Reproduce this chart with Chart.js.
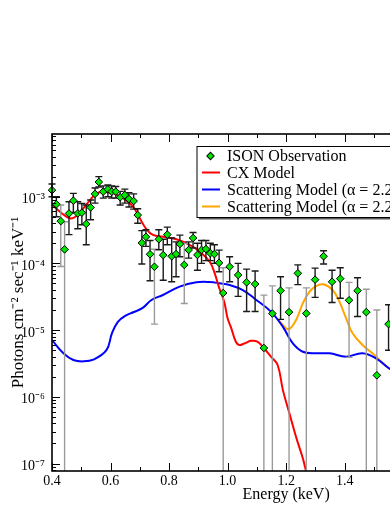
<!DOCTYPE html>
<html><head><meta charset="utf-8">
<script src="https://cdn.jsdelivr.net/npm/chart.js@4.4.1/dist/chart.umd.min.js"></script>
<style>
html,body{margin:0;padding:0;background:#fff;overflow:hidden;width:390px;height:505px;}
#wrap{position:absolute;left:0;top:0;width:531px;height:505px;}
</style></head><body>
<div id="wrap"><canvas id="c" width="531" height="505"></canvas></div>
<script>
// ---- data ----
const energy = [0.400,0.415,0.430,0.443,0.458,0.473,0.488,0.502,0.517,0.532,0.547,0.560,0.575,0.591,0.604,0.618,0.633,0.649,0.663,0.679,
  0.693,0.707,0.721,0.735,0.750,0.765,0.780,0.794,0.809,0.824,0.837,0.852,0.867,0.882,0.897,0.911,0.926,0.941,0.955,0.971,
  0.985,1.007,1.036,1.065,1.094,1.124,1.153,1.181,1.210,1.240,1.269,1.299,1.328,1.357,1.385,1.415,1.444,1.474,1.510,1.550];
const flux = [1.25e-3,7.7e-4,4.3e-4,1.62e-4,5.6e-4,8.7e-4,5.6e-4,5.75e-4,3.9e-4,6.9e-4,1.1e-3,1.66e-3,1.19e-3,1.29e-3,1.19e-3,1.19e-3,9.8e-4,1.06e-3,9.2e-4,8.6e-4,
  5.3e-4,2.03e-4,2.5e-4,1.37e-4,8.9e-5,2.3e-4,1.33e-4,2.7e-4,1.28e-4,1.38e-4,1.95e-4,9.5e-5,1.59e-4,2.4e-4,1.34e-4,1.59e-4,1.64e-4,1.42e-4,1.38e-4,1.02e-4,
  3.6e-5,8.9e-5,6.7e-5,5.2e-5,4.9e-5,5.4e-6,1.77e-5,3.9e-5,1.86e-5,7.1e-5,1.78e-5,5.7e-5,1.28e-4,5.3e-5,5.9e-5,2.8e-5,3.9e-5,1.86e-5,2.1e-6,1.23e-5];
const fluxHigh = [1.55e-3,1.0e-3,7.5e-4,4.2e-4,8.4e-4,1.12e-3,8.4e-4,7.9e-4,7.5e-4,8.9e-4,1.35e-3,2.0e-3,1.45e-3,1.5e-3,1.45e-3,1.42e-3,1.2e-3,1.3e-3,1.15e-3,1.1e-3,
  6.6e-4,3.1e-4,3.2e-4,2.2e-4,1.63e-4,3.2e-4,2.3e-4,3.5e-4,2.4e-4,2.1e-4,2.65e-4,2.0e-4,2.1e-4,2.9e-4,2.0e-4,2.2e-4,2.2e-4,2.0e-4,1.9e-4,1.58e-4,
  8.6e-5,1.26e-4,1.0e-4,8.2e-5,7.7e-5,3.35e-5,4.6e-5,6.3e-5,4.3e-5,9.5e-5,4.3e-5,8.5e-5,1.55e-4,7.9e-5,8.6e-5,5.2e-5,6.1e-5,4.1e-5,2.0e-5,2.4e-5];
// 0 = lower error reaches below the axis
const fluxLow = [1.0e-3,5.0e-4,9.0e-5,0,2.7e-4,5.8e-4,3.3e-4,3.8e-4,1.9e-4,4.5e-4,8.0e-4,1.4e-3,9.5e-4,1.0e-3,9.5e-4,9.5e-4,7.5e-4,8.0e-4,7.0e-4,6.5e-4,
  4.0e-4,9.8e-5,1.8e-4,5.5e-5,1.23e-5,1.6e-4,5.6e-5,1.9e-4,5.3e-5,6.3e-5,1.26e-4,2.5e-5,1.2e-4,1.7e-4,7.9e-5,1.0e-4,1.1e-4,1.1e-4,1.0e-4,7.5e-5,
  0,5.3e-5,3.2e-5,1.9e-5,1.9e-5,0,0,1.45e-5,0,4.8e-5,0,3.1e-5,9.8e-5,2.6e-5,3.0e-5,3.9e-6,1.6e-5,0,0,5.0e-6];

const cxEnergy = [0.400,0.427,0.461,0.484,0.507,0.530,0.552,0.575,0.609,0.643,0.677,0.700,0.723,0.745,0.779,0.825,0.870,0.905,0.939,0.956,
  0.972,0.989,1.000,1.011,1.028,1.040,1.057,1.080,1.102,1.125,1.148,1.171,1.189,1.211,1.234,1.257,1.268,1.285];
const cxModel = [7.6e-4,5.96e-4,4.74e-4,5.14e-4,6.7e-4,8.9e-4,1.12e-3,1.19e-3,1.12e-3,9.5e-4,7.1e-4,4.74e-4,3.24e-4,2.67e-4,2.51e-4,2.3e-4,1.89e-4,1.5e-4,1.06e-4,7.1e-5,
  4.2e-5,2.6e-5,1.5e-5,1.12e-5,6.7e-6,5.98e-6,6.3e-6,6.9e-6,6.7e-6,5.3e-6,4.0e-6,3.0e-6,1.26e-6,5.7e-7,2.5e-7,1.2e-7,7.8e-8,4.5e-8];

const scatEnergy = [0.400,0.439,0.473,0.507,0.541,0.586,0.605,0.625,0.650,0.680,0.710,0.740,0.779,0.836,0.893,0.939,0.973,1.007,1.052,1.098,
  1.148,1.189,1.223,1.257,1.302,1.348,1.405,1.461,1.507,1.550,1.580];
const scatModel = [7.1e-6,4.5e-6,3.56e-6,3.4e-6,3.6e-6,5.0e-6,9.0e-6,1.33e-5,1.64e-5,1.87e-5,2.15e-5,2.83e-5,3.36e-5,4.48e-5,5.2e-5,5.25e-5,5.03e-5,4.74e-5,3.99e-5,2.83e-5,
  1.89e-5,1.12e-5,6.3e-6,4.74e-6,4.49e-6,4.49e-6,4.0e-6,4.49e-6,3.77e-6,2.7e-6,2.2e-6];

const scatLineEnergy = [1.172,1.188,1.209,1.234,1.257,1.280,1.302,1.327,1.359,1.382,1.405,1.427,1.461,1.495,1.513,1.550,1.580];
const scatLineModel = [1.45e-5,1.2e-5,1.03e-5,1.42e-5,2.52e-5,3.77e-5,4.58e-5,4.86e-5,3.99e-5,2.67e-5,1.5e-5,8.95e-6,5.98e-6,4.49e-6,3.77e-6,2.7e-6,2.2e-6];

const xTickValues = [0.4,0.6,0.8,1.0,1.2,1.4,1.6,1.8,2.0];
const yTickExponents = [-7,-6,-5,-4,-3];
const seriesLabels = ['ISON Observation','CX Model','Scattering Model (\u03B1 = 2.2','Scattering Model (\u03B1 = 2.2'];
const seriesColors = ['#00e600','#ff0000','#0000ff','#ffa500'];

// ---- helpers ----
const SUP = {'-':'\u207B','0':'\u2070','1':'\u00B9','2':'\u00B2','3':'\u00B3','4':'\u2074','5':'\u2075','6':'\u2076','7':'\u2077','8':'\u2078','9':'\u2079'};
const sup = s => String(s).split('').map(c => SUP[c] || c).join('');
const SERIF = "'Liberation Serif','Times New Roman',serif";

const errorBars = {
  id: 'errorBars',
  beforeDatasetDraw(chart, args) {
    if (args.index !== 0) return;
    const {ctx, chartArea: a, scales: {x, y}} = chart;
    ctx.save();
    ctx.beginPath(); ctx.rect(a.left - 6, a.top, a.right - a.left + 12, a.bottom - a.top); ctx.clip();
    ctx.lineWidth = 1.4;
    energy.forEach((e, i) => {
      const px = x.getPixelForValue(e);
      const top = y.getPixelForValue(fluxHigh[i]);
      const lowVal = fluxLow[i];
      const toBottom = !(lowVal > 0);
      const bot = toBottom ? a.bottom + 2 : y.getPixelForValue(lowVal);
      const grey = toBottom || lowVal < 0.3 * flux[i];
      ctx.strokeStyle = grey ? '#9a9a9a' : '#1a1a1a';
      ctx.beginPath();
      ctx.moveTo(px, top); ctx.lineTo(px, bot);
      ctx.moveTo(px - 3.5, top); ctx.lineTo(px + 3.5, top);
      if (!toBottom) { ctx.moveTo(px - 3.5, bot); ctx.lineTo(px + 3.5, bot); }
      ctx.stroke();
    });
    ctx.restore();
  }
};

const frameTicks = {
  id: 'frameTicks',
  afterDatasetsDraw(chart) {
    const {ctx, chartArea: a, scales: {x, y}} = chart;
    ctx.save();
    ctx.strokeStyle = '#000';
    ctx.lineWidth = 1;
    ctx.beginPath();
    for (let i = 4; i <= 20; i++) {
      const px = Math.round(x.getPixelForValue(i / 10)) + 0.5;
      const len = i % 2 === 0 ? 8 : 4;
      ctx.moveTo(px, a.bottom); ctx.lineTo(px, a.bottom - len);
      ctx.moveTo(px, a.top); ctx.lineTo(px, a.top + len);
    }
    for (let e = -8; e <= -2; e++) {
      for (let k = 1; k <= 9; k++) {
        const v = k * Math.pow(10, e);
        if (v < y.min || v > y.max) continue;
        const py = Math.round(y.getPixelForValue(v)) + 0.5;
        const len = k === 1 ? 8 : 4;
        ctx.moveTo(a.left, py); ctx.lineTo(a.left + len, py);
        ctx.moveTo(a.right, py); ctx.lineTo(a.right - len, py);
      }
    }
    ctx.stroke();
    ctx.lineWidth = 1.6;
    ctx.strokeRect(a.left, a.top, a.right - a.left, a.bottom - a.top);
    ctx.restore();
  }
};

const boxLegend = {
  id: 'boxLegend',
  afterDraw(chart) {
    const ctx = chart.ctx;
    const x0 = 197, y0 = 146.5, w = 300, h = 71;
    ctx.save();
    ctx.fillStyle = '#555';
    ctx.fillRect(x0 + 2, y0 + 2, w, h);
    ctx.fillStyle = '#fff';
    ctx.fillRect(x0, y0, w, h);
    ctx.strokeStyle = '#000'; ctx.lineWidth = 1;
    ctx.strokeRect(x0, y0, w, h);
    const rows = [156, 172.5, 189.5, 206.5];
    ctx.font = '16px ' + SERIF;
    ctx.textBaseline = 'middle';
    ctx.fillStyle = '#000';
    rows.forEach((ry, i) => {
      if (i === 0) {
        ctx.save();
        ctx.translate(210.5, ry); ctx.rotate(Math.PI / 4);
        ctx.fillStyle = seriesColors[0]; ctx.fillRect(-2.6, -2.6, 5.2, 5.2);
        ctx.strokeStyle = '#000'; ctx.lineWidth = 1; ctx.strokeRect(-2.6, -2.6, 5.2, 5.2);
        ctx.restore();
      } else {
        ctx.strokeStyle = seriesColors[i]; ctx.lineWidth = 2;
        ctx.beginPath(); ctx.moveTo(202, ry); ctx.lineTo(220, ry); ctx.stroke();
      }
      ctx.fillStyle = '#000';
      ctx.fillText(seriesLabels[i], 227, ry + 1);
    });
    ctx.restore();
  }
};

const pts = (xs, ys) => xs.map((v, i) => ({x: v, y: ys[i]}));
const curve = (i, xs, ys) => ({type: 'line', label: seriesLabels[i], data: pts(xs, ys), borderColor: seriesColors[i], borderWidth: 2,
  pointRadius: 0, tension: 0.4, fill: false});

new Chart(document.getElementById('c'), {
  data: {
    datasets: [
      {type: 'scatter', label: seriesLabels[0], data: pts(energy, flux), pointStyle: 'rectRot', pointRadius: 3.8,
       backgroundColor: seriesColors[0], borderColor: '#000', borderWidth: 1, clip: false},
      curve(1, cxEnergy, cxModel),
      curve(2, scatEnergy, scatModel),
      curve(3, scatLineEnergy, scatLineModel)
    ]
  },
  options: {
    responsive: false, animation: false, devicePixelRatio: 1,
    layout: {padding: {top: 134, right: 10, bottom: 0, left: 0}},
    plugins: {legend: {display: false}, tooltip: {enabled: false}},
    scales: {
      x: {
        type: 'linear', min: 0.4, max: 2.0,
        afterBuildTicks: s => { s.ticks = xTickValues.map(v => ({value: v})); },
        afterFit: s => { s.height = 34; },
        grid: {display: false, drawTicks: false}, border: {display: false},
        ticks: {callback: v => Number(v).toFixed(1), font: {family: SERIF, size: 14}, color: '#000', padding: 2, maxRotation: 0, autoSkip: false},
        title: {display: true, text: 'Energy (keV)', font: {family: SERIF, size: 16}, color: '#000', padding: {top: 0, bottom: 1}}
      },
      y: {
        type: 'logarithmic', min: 7.73e-8, max: 8.7e-3,
        afterBuildTicks: s => { s.ticks = yTickExponents.map(e => ({value: Math.pow(10, e)})); },
        afterFit: s => { s.width = 52; },
        grid: {display: false, drawTicks: false}, border: {display: false},
        ticks: {callback: v => '10' + sup(Math.round(Math.log10(v))), font: {family: SERIF, size: 14}, color: '#000', padding: 7, labelOffset: 3, autoSkip: false},
        title: {display: true, text: 'Photons cm' + sup(-2) + ' sec' + sup(-1) + ' keV' + sup(-1), font: {family: SERIF, size: 17}, color: '#000', padding: {top: 8, bottom: 0}}
      }
    }
  },
  plugins: [errorBars, frameTicks, boxLegend]
});
</script>
</body></html>
